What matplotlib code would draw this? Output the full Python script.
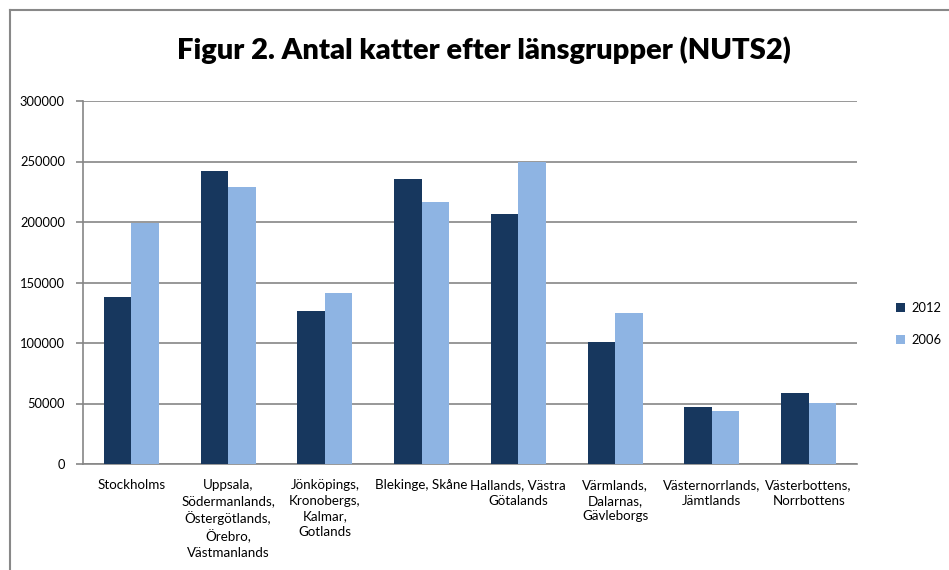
import numpy as np
import matplotlib.pyplot as plt
from matplotlib.lines import Line2D

# data
regions = ["Stockholms",
           "Uppsala,\nSödermanlands,\nÖstergötlands,\nÖrebro,\nVästmanlands",
           "Jönköpings,\nKronobergs,\nKalmar,\nGotlands",
           "Blekinge, Skåne",
           "Hallands, Västra\nGötalands",
           "Värmlands,\nDalarnas,\nGävleborgs",
           "Västernorrlands,\nJämtlands",
           "Västerbottens,\nNorrbottens"]
cats_2012 = [138000, 242000, 126500, 235500, 206500, 100800, 47000, 58700]
cats_2006 = [199500, 229000, 141500, 216500, 249500, 124800, 43800, 50400]

plt.rcParams['font.family'] = ['Lato', 'DejaVu Sans']

fig = plt.figure(figsize=(9.49, 5.70), dpi=100)
ax = fig.add_axes([83/949, 106/570, (857-83)/949, (464-101)/570])

x = np.arange(len(regions))
w = 0.285
ax.bar(x - w/2, cats_2012, w, color='#17375E', label='2012', zorder=3)
ax.bar(x + w/2, cats_2006, w, color='#8EB4E3', label='2006', zorder=3)

ax.set_xlim(-0.5, len(regions) - 0.5)
ax.set_ylim(0, 300000)
ax.set_yticks(np.arange(0, 300001, 50000))
ax.yaxis.grid(True, color='#868686', linewidth=1.2, zorder=0)
ax.tick_params(axis='y', length=5, color='#868686', width=1.2, labelsize=9.3, pad=8)
ax.set_xticks(x)
ax.set_xticklabels(regions, fontsize=9.6, linespacing=1.36, va='top')
ax.tick_params(axis='x', length=0, pad=11)
for s in ['top', 'right']:
    ax.spines[s].set_visible(False)
for s in ['left', 'bottom']:
    ax.spines[s].set_color('#868686')
    ax.spines[s].set_linewidth(1.2)

fig.text(0.510, 1 - 50/570, "Figur 2. Antal katter efter länsgrupper (NUTS2)",
         ha='center', va='center', fontsize=21, fontweight='heavy')

ax.legend(loc='center left', bbox_to_anchor=(884/949, 1 - 324/570),
          bbox_transform=fig.transFigure, frameon=False, fontsize=9.3,
          handlelength=0.7, handleheight=0.7, labelspacing=1.6, handletextpad=0.5)

# chart frame (cropped at right and bottom)
fig.add_artist(Line2D([10/949, 1], [1 - 10/570, 1 - 10/570], color='#888888', lw=1.5, transform=fig.transFigure))
fig.add_artist(Line2D([10/949, 10/949], [0, 1 - 10/570], color='#888888', lw=1.5, transform=fig.transFigure))

fig.savefig("out.png", dpi=100)
